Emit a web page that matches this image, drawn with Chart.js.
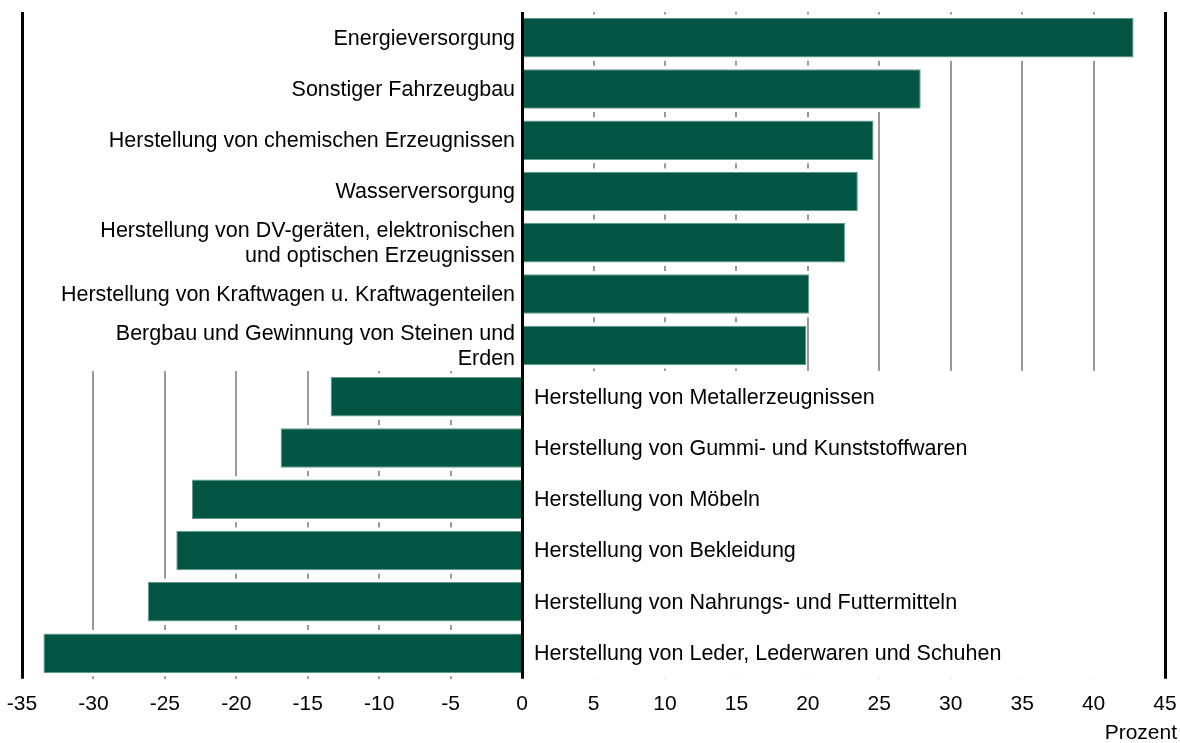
<!DOCTYPE html>
<html>
<head>
<meta charset="utf-8">
<script src="https://cdn.jsdelivr.net/npm/chart.js@4.4.1/dist/chart.umd.min.js"></script>
<style>
  html, body { margin: 0; padding: 0; background: #fff; }
  #wrap { width: 1180px; height: 743px; }
</style>
</head>
<body>
<div id="wrap"><canvas id="myChart" width="1180" height="743"></canvas></div>
<script>
// branches, top to bottom
var categories = [
  'Energieversorgung',
  'Sonstiger Fahrzeugbau',
  'Herstellung von chemischen Erzeugnissen',
  'Wasserversorgung',
  ['Herstellung von DV-geräten, elektronischen', 'und optischen Erzeugnissen'],
  'Herstellung von Kraftwagen u. Kraftwagenteilen',
  ['Bergbau und Gewinnung von Steinen und', 'Erden'],
  'Herstellung von Metallerzeugnissen',
  'Herstellung von Gummi- und Kunststoffwaren',
  'Herstellung von Möbeln',
  'Herstellung von Bekleidung',
  'Herstellung von Nahrungs- und Futtermitteln',
  'Herstellung von Leder, Lederwaren und Schuhen'
];
var values = [42.8, 27.9, 24.6, 23.5, 22.6, 20.1, 19.9, -13.4, -16.9, -23.1, -24.2, -26.2, -33.5];
var axisMin = -35;
var axisMax = 45;
var axisStep = 5;
var unitLabel = 'Prozent';

var fontFamily = "'Liberation Sans', Arial, Helvetica, sans-serif";
var barGreen = '#035543';
var barEdge = '#5e9a8b';
var gridGray = '#9a9a9a';

function isFrame(v) {
  return v === axisMin || v === axisMax || v === 0;
}

// labels sit inside the plot, on the other side of the zero line
var insideLabels = {
  id: 'insideLabels',
  beforeDatasetsDraw: function(chart) {
    var ctx = chart.ctx, area = chart.chartArea;
    var x = chart.scales.x, y = chart.scales.y;
    var zero = x.getPixelForValue(0);
    var firstNeg = values.findIndex(function(v) { return v < 0; });
    var split = (y.getPixelForValue(firstNeg - 1) + y.getPixelForValue(firstNeg)) / 2;
    ctx.save();
    ctx.fillStyle = '#fff';
    ctx.fillRect(area.left, area.top, zero - area.left, split - area.top);
    ctx.fillRect(zero, split, area.right - zero, area.bottom - split);
    ctx.restore();
  },
  afterDatasetsDraw: function(chart) {
    var ctx = chart.ctx;
    var x = chart.scales.x, y = chart.scales.y;
    var zero = x.getPixelForValue(0);
    var lineH = 25;
    ctx.save();
    ctx.font = '21.5px ' + fontFamily;
    ctx.fillStyle = '#000';
    ctx.textBaseline = 'middle';
    categories.forEach(function(cat, i) {
      var lines = Array.isArray(cat) ? cat : [cat];
      var cy = y.getPixelForValue(i) + 1;
      var y0 = cy - (lines.length - 1) * lineH / 2;
      var tx;
      if (values[i] >= 0) {
        ctx.textAlign = 'right';
        tx = zero - 7;
      } else {
        ctx.textAlign = 'left';
        tx = zero + 12;
      }
      lines.forEach(function(l, k) {
        ctx.fillText(l, tx, y0 + k * lineH);
      });
    });
    ctx.restore();
  },
  afterDraw: function(chart) {
    var ctx = chart.ctx;
    ctx.save();
    ctx.font = '21px ' + fontFamily;
    ctx.fillStyle = '#000';
    ctx.textAlign = 'right';
    ctx.textBaseline = 'middle';
    ctx.fillText(unitLabel, 1177, 733);
    ctx.restore();
  }
};

var ctx = document.getElementById('myChart').getContext('2d');
var chart = new Chart(ctx, {
  type: 'bar',
  data: {
    labels: categories,
    datasets: [{
      label: unitLabel,
      data: values,
      backgroundColor: barGreen,
      borderColor: barEdge,
      borderWidth: 1,
      barPercentage: 0.77,
      categoryPercentage: 1,
      grouped: false,
      order: 1
    }, {
      // white halo around each bar, hides the grid in the gaps
      label: 'halo',
      data: values,
      backgroundColor: '#ffffff',
      borderWidth: 0,
      barPercentage: 0.9,
      categoryPercentage: 1,
      grouped: false,
      order: 2
    }]
  },
  options: {
    indexAxis: 'y',
    responsive: false,
    animation: false,
    layout: { padding: { left: 22, right: 15, top: 12, bottom: 26 } },
    plugins: {
      legend: { display: false },
      tooltip: { enabled: false }
    },
    scales: {
      x: {
        type: 'linear',
        min: axisMin,
        max: axisMax,
        ticks: {
          stepSize: axisStep,
          color: '#000',
          padding: 0,
          font: { family: fontFamily, size: 21 }
        },
        grid: {
          drawTicks: true,
          tickLength: 13,
          tickColor: 'rgba(0,0,0,0)',
          lineWidth: 2,
          color: function(c) { return isFrame(c.tick.value) ? 'rgba(0,0,0,0)' : gridGray; }
        },
        border: { display: false }
      },
      x2: {
        type: 'linear',
        position: 'top',
        min: axisMin,
        max: axisMax,
        ticks: { display: false, stepSize: axisStep },
        grid: {
          drawTicks: false,
          z: 1,
          lineWidth: 3,
          color: function(c) { return isFrame(c.tick.value) ? '#000' : 'rgba(0,0,0,0)'; }
        },
        border: { display: false }
      },
      y: { display: false }
    }
  },
  plugins: [insideLabels]
});
</script>
</body>
</html>
